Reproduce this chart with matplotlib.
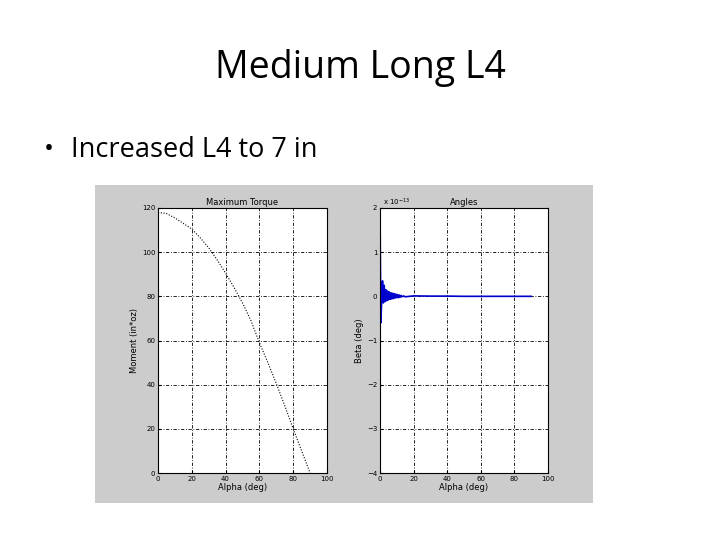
import matplotlib
matplotlib.use("Agg")
import matplotlib.pyplot as plt

title = "Medium Long L4"
bullet = "Increased L4 to 7 in"

alpha_t = [0,5,10,15,20,25,30,35,40,45,50,55,60,65,70,75,80,85,90]
moment = [118,117.5,115.5,113,110.5,106.5,102,96.5,90.5,84,77,69,59,50,40.5,30.5,20,10,0]

alpha_b = [0,0,0,0.5,1,1.5,2,2.5,3,3.5,4,4.5,5,5.5,6,6.5,7,7.5,8,8.5,9,9.5,10,10.5,11,11.5,12,12.5,13,14,15,20,30,40,50,60,90]
beta = [0,-4,2,-0.6,-0.1,0.35,-0.15,0.25,-0.12,0.15,-0.1,0.12,-0.08,0.1,-0.07,0.08,-0.06,0.07,-0.05,0.06,-0.04,0.05,-0.03,0.04,-0.03,0.03,-0.02,0.02,-0.01,0.01,-0.01,0.01,0.005,0.005,0,0,0]

fig = plt.figure(figsize=(7.2,5.4), dpi=100)
fig.patch.set_facecolor("white")
fig.text(0.5, 1-68/540, title, ha="center", va="center", fontsize=27, family="Open Sans")
fig.text(44/720, 1-150/540, "•", ha="left", va="center", fontsize=19, family="Open Sans")
fig.text(71/720, 1-150/540, bullet, ha="left", va="center", fontsize=19.5, family="Open Sans")

bg = fig.add_axes([95/720, 1-503/540, 498/720, 318/540])
bg.set_facecolor("#cccccc"); bg.set_xticks([]); bg.set_yticks([])
for s in bg.spines.values(): s.set_visible(False)

ax1 = fig.add_axes([158/720, 1-473/540, 169/720, 265/540])
ax1.plot(alpha_t, moment, color="black", ls=(0,(1,1.5)), lw=0.8)
ax1.set_xlim(0,100); ax1.set_ylim(0,120)
ax1.set_xticks(range(0,101,20)); ax1.set_yticks(range(0,121,20))
ax1.set_title("Maximum Torque", fontsize=6, pad=2)
ax1.set_xlabel("Alpha (deg)", fontsize=6, labelpad=1)
ax1.set_ylabel("Moment (in*oz)", fontsize=6, labelpad=2)

ax2 = fig.add_axes([380/720, 1-473/540, 168/720, 265/540])
ax2.plot(alpha_b, beta, color="#0000cc", lw=1.2)
ax2.set_xlim(0,100); ax2.set_ylim(-4,2)
ax2.set_xticks(range(0,101,20)); ax2.set_yticks(range(-4,3))
ax2.set_title("Angles", fontsize=6, pad=2)
ax2.set_xlabel("Alpha (deg)", fontsize=6, labelpad=1)
ax2.set_ylabel("Beta (deg)", fontsize=6, labelpad=2)
ax2.text(0.02, 1.01, r"x 10$^{-13}$", transform=ax2.transAxes, fontsize=5)

for ax in (ax1, ax2):
    ax.grid(True, color="black", ls=(0,(4,2,1,2)), lw=0.6)
    ax.tick_params(labelsize=5, length=2, direction="in", pad=2)

fig.savefig("out.png", dpi=100)
